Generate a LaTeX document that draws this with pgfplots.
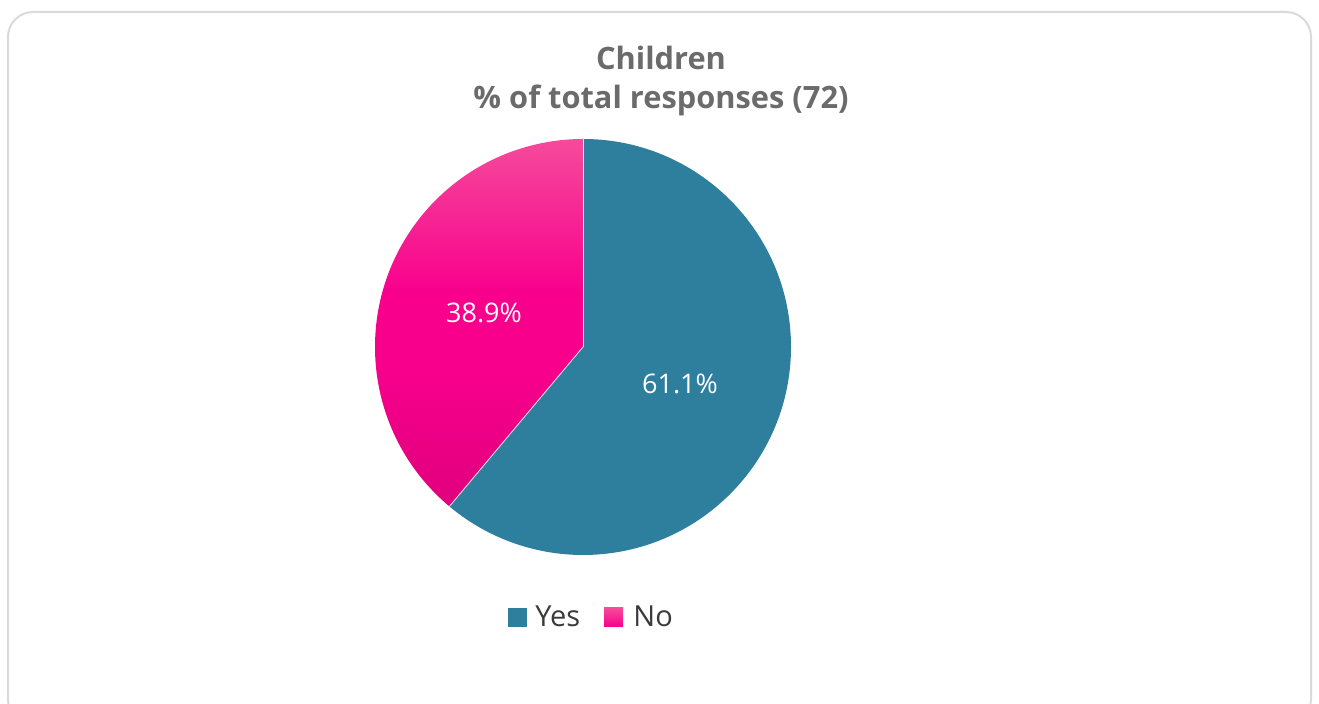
\documentclass[border=0pt]{standalone}
\usepackage{pgfplots}
\pgfplotsset{compat=1.18}
\usepackage{pgfplotstable}
\usepackage{fontspec}
\setmainfont{Open Sans}
\definecolor{yescol}{HTML}{2E7E9E}
\definecolor{notop}{HTML}{F64A9B}
\definecolor{nomid}{HTML}{F8008C}
\definecolor{nobot}{HTML}{E0007D}
\definecolor{titlegray}{HTML}{6B6B6B}
\definecolor{legtext}{HTML}{3A3A3A}
\definecolor{bordergray}{HTML}{DADADA}
\pgfdeclareverticalshading{noshade}{100bp}{color(0bp)=(nobot); color(25bp)=(nobot); color(44bp)=(nomid); color(54bp)=(nomid); color(75bp)=(notop); color(100bp)=(notop)}
\pgfplotstableread{
label value
Yes 61.1
No 38.9
}\piedata
\begin{document}
\begin{tikzpicture}
\pgfplotstablegetelem{0}{value}\of\piedata \let\vyes\pgfplotsretval
\pgfplotstablegetelem{1}{value}\of\piedata \let\vno\pgfplotsretval
\pgfmathsetmacro{\aend}{90-3.6*\vyes}
\begin{axis}[width=659.5pt,height=352pt,scale only axis,
  xmin=0,xmax=1319,ymin=0,ymax=704,hide axis,clip=false]
% border
\draw[bordergray, line width=1pt, rounded corners=12.5pt] (axis cs:8,-20) rectangle (axis cs:1311,692);
% slices
\fill[yescol] (axis cs:583,357) -- ++(90:104pt) arc[start angle=90, end angle=\aend, radius=104pt] -- cycle;
\shade[shading=noshade] (axis cs:583,357) -- ++(\aend:104pt) arc[start angle=\aend, end angle=-270, radius=104pt] -- cycle;
\draw[white!85!gray, line width=0.4pt] (axis cs:583,357) -- ++(90:104pt);
\draw[white!85!gray, line width=0.4pt] (axis cs:583,357) -- ++(\aend:104pt);
% labels
\node[text=white, font=\fontsize{13.5}{16}\selectfont] at (axis cs:484,391) {\vno\%};
\node[text=white, font=\fontsize{13.5}{16}\selectfont] at (axis cs:680,320) {\vyes\%};
% title
\node[align=center, text=titlegray, font=\bfseries\fontsize{15.4}{19.5}\selectfont] at (axis cs:661,623) {Children\\\% of total responses (72)};
% legend
\fill[yescol] (axis cs:508,96) rectangle (axis cs:527,77);
\node[anchor=base west, inner sep=0pt, text=legtext, font=\fontsize{14.5}{17}\selectfont] at (axis cs:535,77) {Yes};
\shade[top color=notop, bottom color=nomid] (axis cs:604,96) rectangle (axis cs:623,77);
\node[anchor=base west, inner sep=0pt, text=legtext, font=\fontsize{14.5}{17}\selectfont] at (axis cs:633,77) {No};
\end{axis}
\pgfresetboundingbox
\path[use as bounding box] (current axis.south west) rectangle (current axis.north east);
\end{tikzpicture}
\end{document}
